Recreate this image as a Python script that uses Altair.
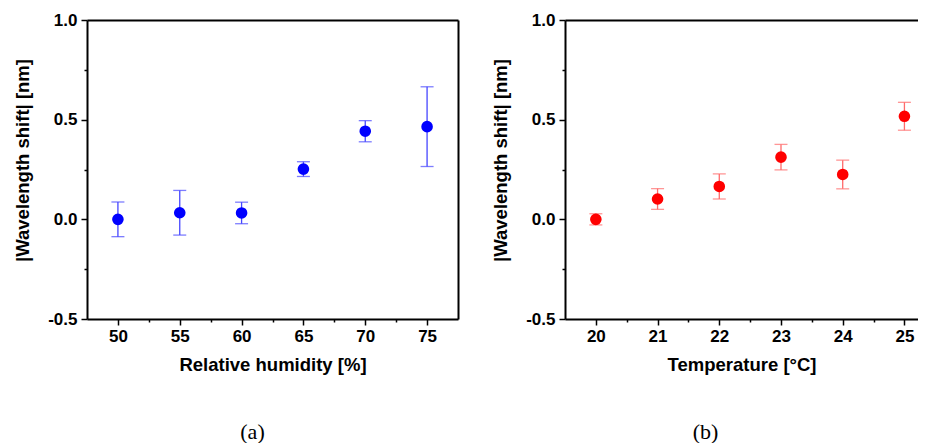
import altair as alt
import pandas as pd

# Panel (a): relative humidity
rh = [50, 55, 60, 65, 70, 75]
rh_shift = [0.0, 0.033, 0.032, 0.252, 0.442, 0.465]
rh_err = [0.087, 0.112, 0.054, 0.037, 0.053, 0.200]
rh_ticks = [50, 55, 60, 65, 70, 75]
rh_minor = [52.5, 57.5, 62.5, 67.5, 72.5]

# Panel (b): temperature
temp = [20, 21, 22, 23, 24, 25]
temp_shift = [0.0, 0.102, 0.165, 0.312, 0.225, 0.517]
temp_err = [0.028, 0.052, 0.063, 0.064, 0.072, 0.070]
temp_ticks = [20, 21, 22, 23, 24, 25]
temp_minor = [20.5, 21.5, 22.5, 23.5, 24.5]

y_ticks = [-0.5, 0.0, 0.5, 1.0]
y_minor = [-0.25, 0.25, 0.75]

SANS = "Liberation Sans"
Y_LABEL_EXPR = ("datum.value < 0 ? '-' + format(-datum.value, '.1f') "
                ": format(datum.value, '.1f')")


def make_df(xs, ys, es):
    return pd.DataFrame({
        "x": xs,
        "y": ys,
        "low": [v - e for v, e in zip(ys, es)],
        "high": [v + e for v, e in zip(ys, es)],
    })


def panel(df, xtitle, xdomain, xticks, xminor, width, color, barcolor,
          label, right_border, label_dx):
    xs = alt.Scale(domain=xdomain, nice=False, zero=False)
    ys = alt.Scale(domain=[-0.5, 1.0], nice=False, zero=False)

    bars = alt.Chart(df).mark_errorbar(
        ticks={"size": 13}, color=barcolor, thickness=1.3
    ).encode(
        x=alt.X("x:Q", scale=xs,
                axis=alt.Axis(orient="top", labels=False, ticks=False,
                              title=None, domain=True, grid=False)),
        y=alt.Y("low:Q", scale=ys,
                axis=(alt.Axis(orient="right", labels=False, ticks=False,
                               title=None, domain=True, grid=False)
                      if right_border else None)),
        y2="high:Q",
    )

    minor = alt.Chart(df).mark_circle(opacity=0).encode(
        x=alt.X("x:Q", scale=xs,
                axis=alt.Axis(orient="bottom", values=xminor, labels=False,
                              domain=False, tickSize=3, title=None, grid=False)),
        y=alt.Y("y:Q", scale=ys,
                axis=alt.Axis(orient="left", values=y_minor, labels=False,
                              domain=False, tickSize=3, title=None, grid=False)),
    )

    points = alt.Chart(df).mark_circle(size=135, opacity=1, color=color).encode(
        x=alt.X("x:Q", scale=xs,
                axis=alt.Axis(orient="bottom", values=xticks, title=xtitle,
                              tickSize=6, labelPadding=3, titlePadding=11,
                              grid=False)),
        y=alt.Y("y:Q", scale=ys,
                axis=alt.Axis(orient="left", values=y_ticks,
                              labelExpr=Y_LABEL_EXPR,
                              title="|Wavelength shift| [nm]", tickSize=6,
                              labelPadding=4, titlePadding=15, titleY=140,
                              grid=False)),
    )

    return alt.layer(bars, minor, points).resolve_axis(
        x="independent", y="independent"
    ).properties(
        width=width,
        height=299,
        title=alt.TitleParams(
            label, orient="bottom", anchor="middle", frame="group",
            font="Liberation Serif", fontSize=22, fontWeight="normal",
            color="black", offset=48, dx=label_dx,
        ),
    )


a = panel(make_df(rh, rh_shift, rh_err), "Relative humidity [%]",
          [47.5, 77.5], rh_ticks, rh_minor, 371, "#0000ff", "#4646ff",
          "(a)", True, -20)
b = panel(make_df(temp, temp_shift, temp_err), "Temperature [\u00b0C]",
          [19.5, 25.22], temp_ticks, temp_minor, 353, "#ff0000", "#ff6a6a",
          "(b)", False, -36)

chart = alt.hconcat(a, b, spacing=33).properties(
    padding={"left": 5, "top": 3, "right": 0, "bottom": 0},
    background="white",
).configure_view(
    stroke=None
).configure_axis(
    domainColor="black", domainWidth=2, tickColor="black", tickWidth=1.5,
    labelFont=SANS, labelFontWeight="bold", labelFontSize=17,
    labelColor="black", titleFont=SANS, titleFontSize=18.5,
    titleFontWeight="bold", titleColor="black", grid=False,
)

chart.save("out.html", embed_options={"renderer": "svg", "actions": False})
